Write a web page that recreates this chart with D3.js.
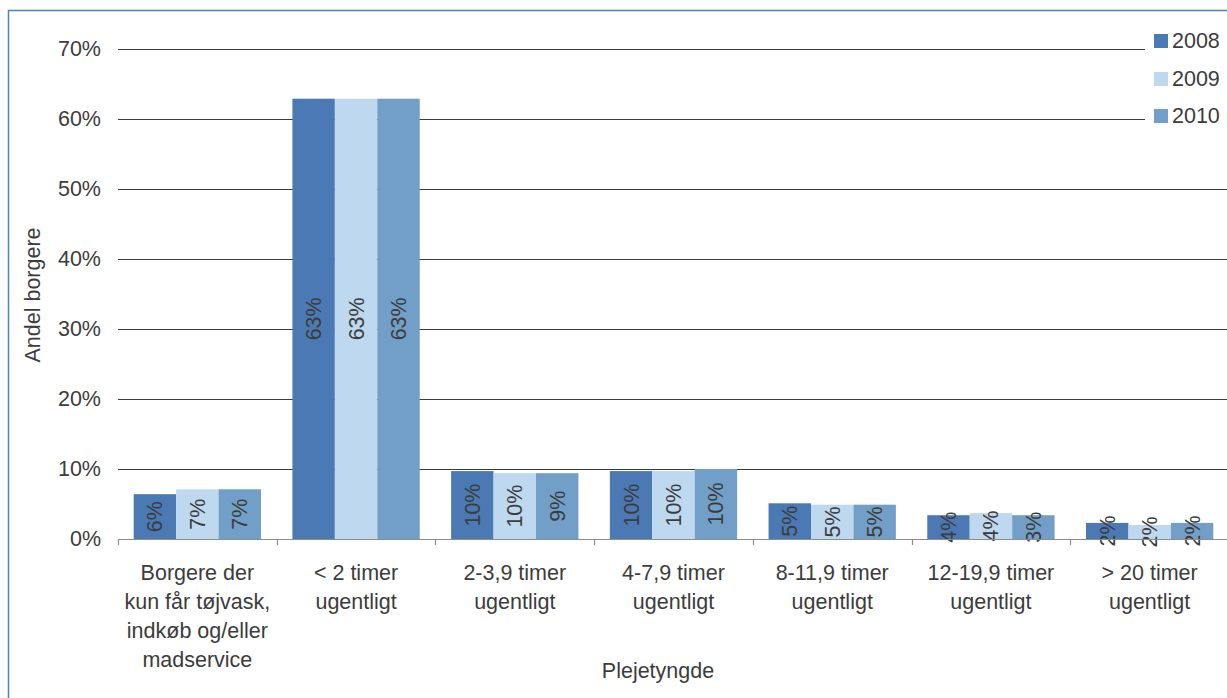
<!DOCTYPE html>
<html><head><meta charset="utf-8">
<script src="https://cdn.jsdelivr.net/npm/d3@7"></script>
<style>
html,body{margin:0;padding:0;background:#fff;}
svg{display:block;font-family:"Liberation Sans",Arial,sans-serif;}
</style></head>
<body>
<svg id="chart" width="1227" height="698"></svg>
<script>
const categories = [
  ["Borgere der","kun får tøjvask,","indkøb og/eller","madservice"],
  ["< 2 timer","ugentligt"],
  ["2-3,9 timer","ugentligt"],
  ["4-7,9 timer","ugentligt"],
  ["8-11,9 timer","ugentligt"],
  ["12-19,9 timer","ugentligt"],
  ["> 20 timer","ugentligt"]
];
const years = ["2008","2009","2010"];
const values2008 = [0.064, 0.629, 0.097, 0.097, 0.051, 0.034, 0.023];
const values2009 = [0.071, 0.629, 0.094, 0.097, 0.049, 0.037, 0.020];
const values2010 = [0.071, 0.629, 0.094, 0.100, 0.049, 0.034, 0.023];
const labels2008 = ["6%","63%","10%","10%","5%","4%","2%"];
const labels2009 = ["7%","63%","10%","10%","5%","4%","2%"];
const labels2010 = ["7%","63%","9%","10%","5%","3%","2%"];
const yTicks = [0,0.1,0.2,0.3,0.4,0.5,0.6,0.7];
const colors = ["#4A79B3","#BED8F0","#719FC8"];

(function(){
const series = [values2008, values2009, values2010];
const seriesLabels = [labels2008, labels2009, labels2010];

const svg = d3.select("#chart");
const pLeft = 118, pRight = 1229, pTop = 49, pBottom = 539;
const textColor = "#3c3c3c";
const fs = 21.5;

// frame
svg.append("path").attr("d","M8.5,698 V10.5 H1227").attr("fill","none").attr("stroke","#4F81BD").attr("stroke-width",1.5);

const x = d3.scaleBand().domain(d3.range(categories.length)).range([pLeft,pRight]).paddingInner(0).paddingOuter(0);
const xs = d3.scaleBand().domain(years).range([0,x.bandwidth()]).paddingInner(0).paddingOuter(0.37);
const y = d3.scaleLinear().domain([0,0.7]).range([pBottom,pTop]);

// gridlines
svg.append("g").selectAll("line").data(yTicks.slice(1)).join("line")
  .attr("x1",pLeft).attr("x2",1227)
  .attr("y1",d=>Math.round(y(d))+0.5).attr("y2",d=>Math.round(y(d))+0.5)
  .attr("stroke","#3a3a3a").attr("stroke-width",1);

// y tick labels
const yAxis = d3.axisLeft(y).tickValues(yTicks).tickFormat(d3.format(".0%")).tickSize(0).tickPadding(17);
const gy = svg.append("g").attr("transform",`translate(${pLeft},0)`).call(yAxis);
gy.select(".domain").remove();
gy.selectAll("text").attr("font-size",fs).attr("fill",textColor).attr("font-family","Liberation Sans, Arial, sans-serif");

// bars
const groups = svg.append("g").selectAll("g").data(years).join("g");
groups.each(function(yr,si){
  const g = d3.select(this);
  g.selectAll("rect").data(series[si]).join("rect")
    .attr("x",(d,i)=>x(i)+xs(yr))
    .attr("width",xs.bandwidth())
    .attr("y",d=>y(d))
    .attr("height",d=>y(0)-y(d))
    .attr("fill",colors[si]);
  g.selectAll("text").data(series[si]).join("text")
    .attr("transform",(d,i)=>`translate(${x(i)+xs(yr)+xs.bandwidth()/2},${(y(d)+y(0))/2}) rotate(-90)`)
    .attr("text-anchor","middle").attr("dy","0.35em")
    .attr("font-size",fs).attr("fill",textColor)
    .text((d,i)=>seriesLabels[si][i]);
});

// x axis
const xAxisG = svg.append("g");
xAxisG.append("line").attr("x1",pLeft).attr("x2",1227).attr("y1",pBottom+0.5).attr("y2",pBottom+0.5).attr("stroke","#8c8c8c").attr("stroke-width",1.2);
xAxisG.selectAll("line.tk").data(d3.range(categories.length+1)).join("line").attr("class","tk")
  .attr("x1",i=>Math.round(pLeft+i*x.step())+0.5).attr("x2",i=>Math.round(pLeft+i*x.step())+0.5)
  .attr("y1",pBottom).attr("y2",pBottom+6).attr("stroke","#8c8c8c").attr("stroke-width",1.2);

// category labels
const cl = svg.append("g").selectAll("text").data(categories).join("text")
  .attr("x",(d,i)=>x(i)+x.bandwidth()/2).attr("y",579)
  .attr("text-anchor","middle").attr("font-size",fs).attr("fill",textColor);
cl.each(function(lines){
  const t = d3.select(this);
  lines.forEach((ln,k)=>{
    t.append("tspan").attr("x",t.attr("x")).attr("y",580+k*29).text(ln);
  });
});

// axis titles
svg.append("text").attr("x",658).attr("y",678).attr("text-anchor","middle").attr("font-size",fs).attr("fill",textColor).text("Plejetyngde");
svg.append("text").attr("transform","translate(40,295) rotate(-90)").attr("text-anchor","middle").attr("font-size",fs).attr("fill",textColor).text("Andel borgere");

// legend
const lg = svg.append("g");
lg.append("rect").attr("x",1145).attr("y",22).attr("width",82).attr("height",110).attr("fill","#fff");
const legendY = [40,78,115];
years.forEach((yr,i)=>{
  lg.append("rect").attr("x",1154).attr("y",legendY[i]-6).attr("width",14).attr("height",14).attr("fill",colors[i]);
  lg.append("text").attr("x",1172).attr("y",legendY[i]).attr("dy","0.35em").attr("font-size",fs).attr("fill",textColor).text(yr);
});
})();
</script>
</body></html>
